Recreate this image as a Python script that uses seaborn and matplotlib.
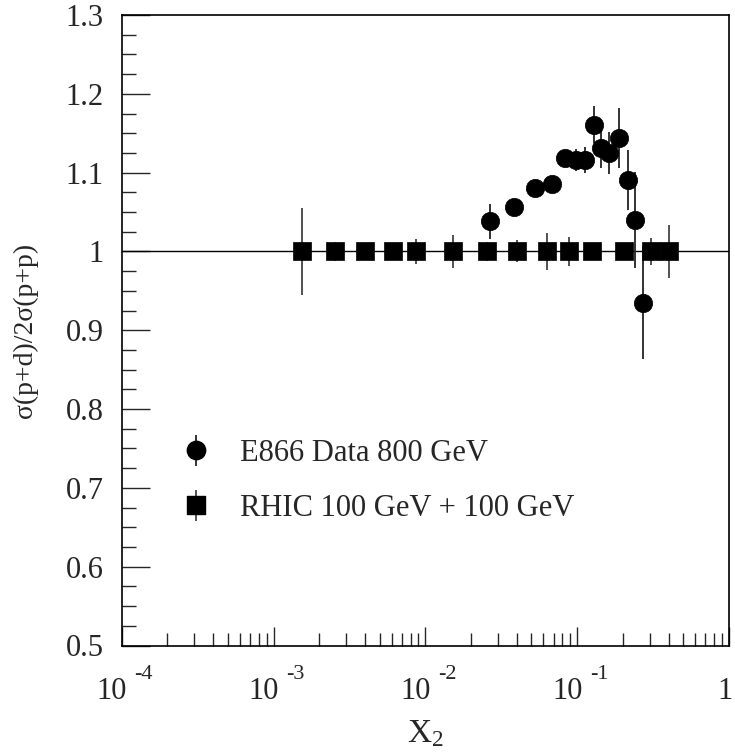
import numpy as np
import pandas as pd
import seaborn as sns
import matplotlib
matplotlib.use("Agg")
import matplotlib.pyplot as plt
import matplotlib.transforms as mtransforms
from matplotlib.ticker import FixedLocator, FixedFormatter, LogLocator, NullFormatter, MultipleLocator
from matplotlib.legend_handler import HandlerTuple

# ---- data ----
x_e866 = [0.0265, 0.0384, 0.0527, 0.0678, 0.0830, 0.0985, 0.113, 0.129, 0.1445, 0.163, 0.188, 0.215, 0.239, 0.273]
r_e866 = [1.038, 1.057, 1.081, 1.086, 1.118, 1.116, 1.116, 1.161, 1.131, 1.125, 1.144, 1.091, 1.040, 0.935]
e_e866 = [0.022, 0.010, 0.010, 0.010, 0.011, 0.014, 0.017, 0.024, 0.025, 0.027, 0.038, 0.038, 0.061, 0.072]

x_rhic = [0.00153, 0.00255, 0.00403, 0.00610, 0.00869, 0.0151, 0.0256, 0.0403, 0.0632, 0.0886, 0.126, 0.202, 0.306, 0.403]
r_rhic = [1.0] * 14
e_rhic = [0.055, 0.012, 0.008, 0.008, 0.016, 0.021, 0.012, 0.014, 0.023, 0.018, 0.008, 0.008, 0.017, 0.034]

labels = ["E866 Data 800 GeV", "RHIC 100 GeV + 100 GeV"]
xtick_vals = [1e-4, 1e-3, 1e-2, 1e-1, 1]
xtick_base = ["10", "10", "10", "10", "1"]
xtick_exp = ["-4", "-3", "-2", "-1", ""]
ytick_vals = [0.5, 0.6, 0.7, 0.8, 0.9, 1.0, 1.1, 1.2, 1.3]
ytick_labels = ["0.5", "0.6", "0.7", "0.8", "0.9", "1", "1.1", "1.2", "1.3"]

sns.set_style("white")
plt.rcParams["font.family"] = ["Liberation Serif", "DejaVu Serif"]
plt.rcParams["mathtext.fontset"] = "custom"
plt.rcParams["mathtext.rm"] = "Liberation Serif"
plt.rcParams["mathtext.it"] = "Liberation Serif:italic"

W, H = 735, 753
fig = plt.figure(figsize=(W / 100, H / 100), dpi=100)
ax_left, ax_right, ax_top, ax_bot = 121.7, 729.0, 15.0, 645.5
ax = fig.add_axes([ax_left / W, 1 - ax_bot / H, (ax_right - ax_left) / W, (ax_bot - ax_top) / H])

df_e = pd.DataFrame({"x": x_e866, "r": r_e866})
df_r = pd.DataFrame({"x": x_rhic, "r": r_rhic})

ax.axhline(1.0, color="black", lw=1.0, zorder=1)

eb_r = ax.errorbar(x_rhic, r_rhic, yerr=e_rhic, fmt="none", ecolor="#444444", elinewidth=1.3, zorder=2)
eb_e = ax.errorbar(x_e866, r_e866, yerr=e_e866, fmt="none", ecolor="#222222", elinewidth=1.3, zorder=2)

sns.scatterplot(data=df_r, x="x", y="r", marker="s", s=175, color="black", edgecolor="black", linewidth=0.5, ax=ax, zorder=3)
sns.scatterplot(data=df_e, x="x", y="r", marker="o", s=175, color="black", edgecolor="black", linewidth=0.5, ax=ax, zorder=4)

ax.set_xscale("log")
ax.set_xlim(1e-4, 1)
ax.set_ylim(0.5, 1.3)

ax.xaxis.set_major_locator(FixedLocator(xtick_vals))
ax.xaxis.set_major_formatter(NullFormatter())
ax.xaxis.set_minor_locator(LogLocator(base=10, subs=np.arange(2, 10), numticks=20))
ax.xaxis.set_minor_formatter(NullFormatter())
ax.yaxis.set_major_locator(FixedLocator(ytick_vals))
ax.yaxis.set_major_formatter(FixedFormatter(ytick_labels))
ax.yaxis.set_minor_locator(MultipleLocator(0.025))

ax.tick_params(axis="x", which="major", direction="in", length=14, width=1.0, bottom=True, top=False)
ax.tick_params(axis="x", which="minor", direction="in", length=9.5, width=1.0, bottom=True, top=False)
ax.tick_params(axis="y", which="major", direction="in", length=20, width=1.0, pad=13, labelsize=22, left=True, right=False)
ax.tick_params(axis="y", which="minor", direction="in", length=10, width=1.0, left=True, right=False)

# x tick labels in the "10 ^-n" style, as text placed at each decade
blend = mtransforms.blended_transform_factory(ax.transData, ax.transAxes)
for xv, b, e in zip(xtick_vals, xtick_base, xtick_exp):
    if e:
        off_b = mtransforms.ScaledTranslation(-10 / 100, -53.5 / 100, fig.dpi_scale_trans)
        ax.text(xv, 0, b, transform=blend + off_b, ha="center", va="baseline", fontsize=22, clip_on=False)
        off_e = mtransforms.ScaledTranslation(22 / 100, -33.5 / 100, fig.dpi_scale_trans)
        ax.text(xv, 0, e, transform=blend + off_e, ha="center", va="baseline", fontsize=16, clip_on=False)
    else:
        off_b = mtransforms.ScaledTranslation(-4 / 100, -53.5 / 100, fig.dpi_scale_trans)
        ax.text(xv, 0, b, transform=blend + off_b, ha="center", va="baseline", fontsize=22, clip_on=False)

for s in ax.spines.values():
    s.set_color("black")
    s.set_linewidth(1.2)

ax.set_xlabel(r"X$_{2}$", fontsize=24)
ax.xaxis.set_label_coords(0.5, -0.116)
ax.xaxis.label.set_va("top")
ax.set_ylabel(r"σ(p+d)/2σ(p+p)", fontsize=20, labelpad=20)

# legend
h_e = ax.scatter([], [], marker="o", s=175, color="black")
h_r = ax.scatter([], [], marker="s", s=175, color="black")
leg = ax.legend([(eb_e, h_e), (eb_r, h_r)], labels,
                handler_map={tuple: HandlerTuple(ndivide=1)},
                scatteryoffsets=[0.5],
                loc="center left", bbox_to_anchor=(0.1, 0.261), frameon=False,
                fontsize=22, handlelength=0.9, handletextpad=1.0, labelspacing=0.85,
                borderaxespad=0, borderpad=0)

fig.savefig("out.png", dpi=100)
